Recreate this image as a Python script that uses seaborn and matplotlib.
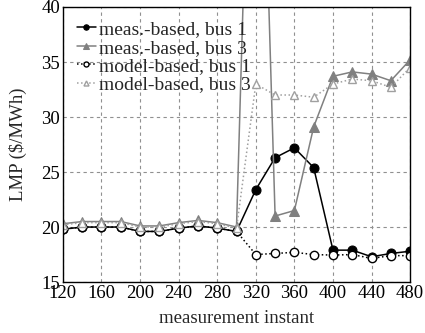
import matplotlib
matplotlib.use("Agg")
import matplotlib.pyplot as plt
import seaborn as sns
import pandas as pd

instants = [120, 140, 160, 180, 200, 220, 240, 260, 280, 300,
            320, 340, 360, 380, 400, 420, 440, 460, 480]
meas_bus1 = [19.8, 20.0, 20.0, 20.0, 19.6, 19.6, 19.9, 20.1, 19.9, 19.6,
             23.4, 26.3, 27.2, 25.4, 17.9, 17.9, 17.3, 17.6, 17.8]
meas_bus3 = [20.3, 20.5, 20.5, 20.5, 20.1, 20.1, 20.4, 20.6, 20.4, 20.0,
             80.0, 21.0, 21.5, 29.1, 33.7, 34.1, 33.9, 33.3, 35.2]
model_bus1 = [19.8, 20.0, 20.0, 20.0, 19.6, 19.6, 19.9, 20.1, 19.9, 19.6,
              17.5, 17.6, 17.7, 17.5, 17.45, 17.5, 17.15, 17.4, 17.4]
model_bus3 = [20.2, 20.4, 20.4, 20.4, 20.0, 20.0, 20.3, 20.5, 20.3, 19.9,
              33.0, 32.0, 32.0, 31.8, 33.0, 33.45, 33.3, 32.7, 34.5]
labels = ["meas.-based, bus 1", "meas.-based, bus 3",
          "model-based, bus 1", "model-based, bus 3"]
x_ticks = [120, 160, 200, 240, 280, 320, 360, 400, 440, 480]
y_ticks = [15, 20, 25, 30, 35, 40]

sns.set_theme(style="white")
plt.rcParams["font.family"] = ["Liberation Serif", "DejaVu Serif"]
plt.rcParams["mathtext.fontset"] = "stix"

fig = plt.figure(figsize=(4.25, 3.33), dpi=100)
ax = fig.add_axes([0.148, 0.153, 0.817, 0.826])

series = [meas_bus1, meas_bus3, model_bus1, model_bus3]
styles = [
    dict(color="black", linestyle="-", marker="o", markersize=6.5,
         markerfacecolor="black", markeredgecolor="black", linewidth=1.1),
    dict(color="#808080", linestyle="-", marker="^", markersize=6.5,
         markerfacecolor="#808080", markeredgecolor="#808080", linewidth=1.1),
    dict(color="black", linestyle=":", marker="o", markersize=6,
         markerfacecolor="white", markeredgecolor="black", markeredgewidth=1.0,
         linewidth=1.1),
    dict(color="#a0a0a0", linestyle=":", marker="^", markersize=6,
         markerfacecolor="white", markeredgecolor="#a0a0a0", markeredgewidth=1.0,
         linewidth=1.1),
]
for vals, lab, st in zip(series, labels, styles):
    df = pd.DataFrame({"x": instants, "y": vals})
    sns.lineplot(data=df, x="x", y="y", ax=ax, label=lab, **st)

ax.set_xlim(120, 480)
ax.set_ylim(15, 40)
ax.set_xticks(x_ticks)
ax.set_yticks(y_ticks)
ax.grid(True, linestyle=(0, (3, 3)), color="#909090", linewidth=0.8)
ax.tick_params(axis="both", direction="in", length=0, labelsize=13.5, pad=2,
               colors="black")
for sp in ax.spines.values():
    sp.set_color("black")
    sp.set_linewidth(1.0)
ax.set_xlabel("measurement instant", fontsize=13.5, labelpad=6)
ax.set_ylabel("LMP (\\$/MWh)", fontsize=13.5, labelpad=10)

leg = ax.legend(loc="upper left", frameon=False, fontsize=14,
                handlelength=1.0, handletextpad=0.15, labelspacing=0.04,
                borderaxespad=0.45, borderpad=0.25, markerscale=0.6)

fig.savefig("out.png", dpi=100)
